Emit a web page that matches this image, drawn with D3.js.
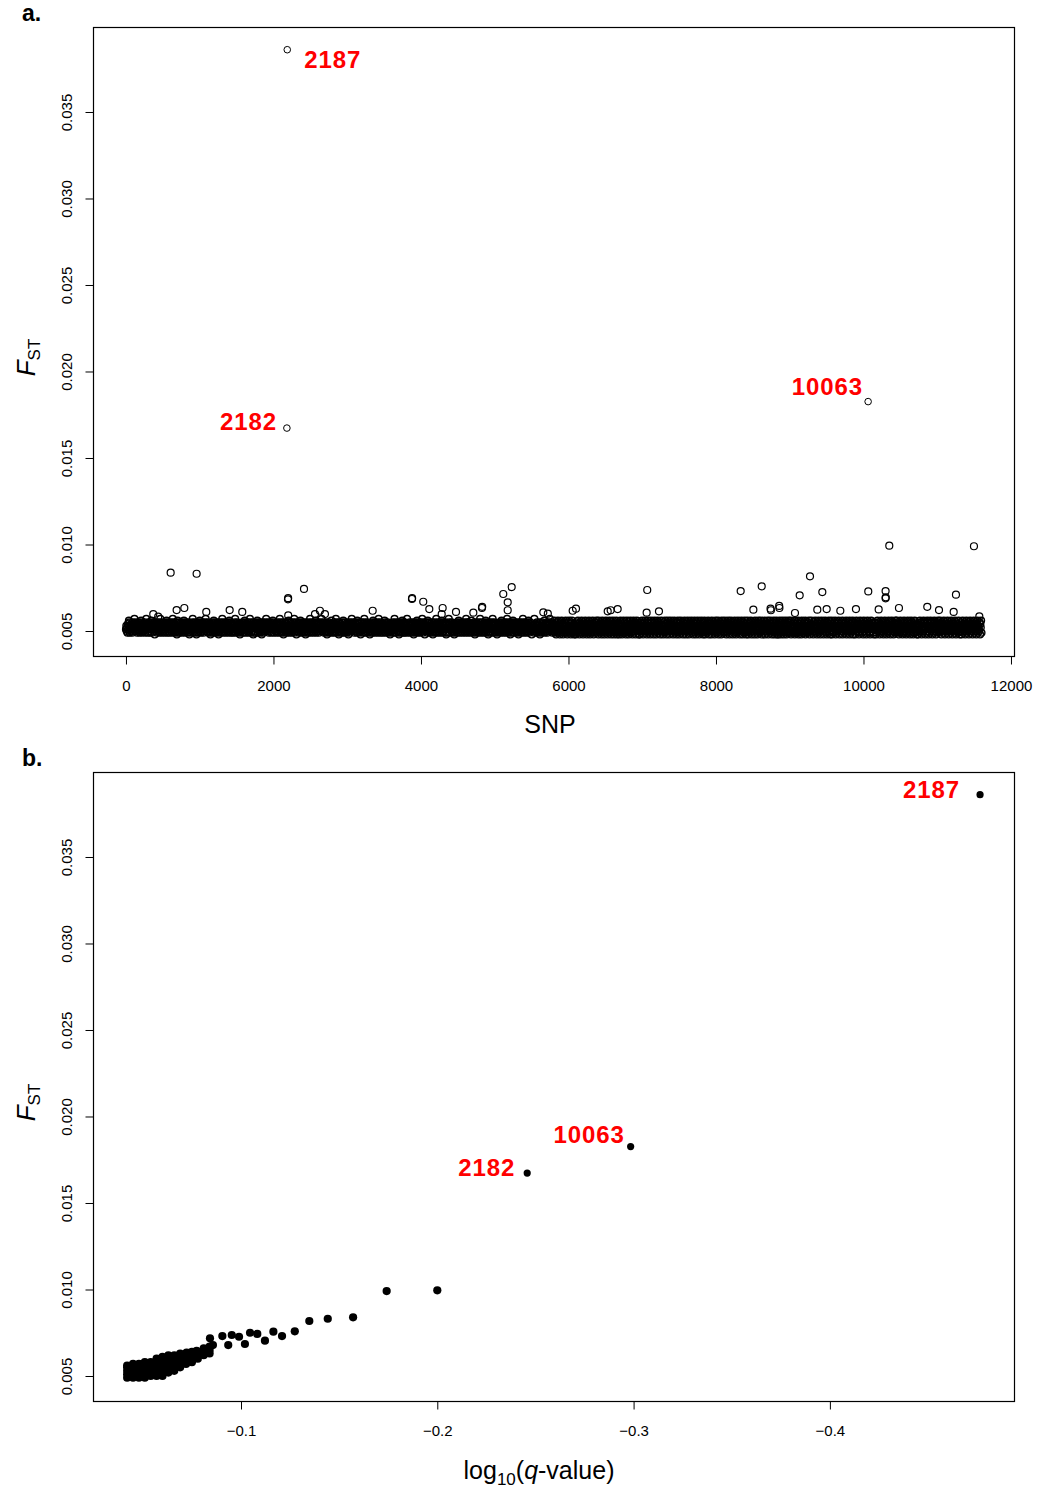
<!DOCTYPE html>
<html><head><meta charset="utf-8">
<script src="https://cdn.jsdelivr.net/npm/d3@7"></script>
<style>
body{margin:0;background:#fff}
text{font-family:"Liberation Sans",Arial,Helvetica,sans-serif}
</style>
</head><body>
<svg id="chart" width="1037" height="1490"></svg>
<script>
// ---------------- DATA ----------------
const snpTicks = [0, 2000, 4000, 6000, 8000, 10000, 12000];
const fstTicks = [0.005, 0.010, 0.015, 0.020, 0.025, 0.030, 0.035];
const logqTicks = [-0.1, -0.2, -0.3, -0.4];

// highlighted SNPs
const labelIds  = ["2187", "2182", "10063"];
const labelSnp  = [2187, 2182, 10063];
const labelFst  = [0.0386, 0.01673, 0.01826];
const labelLogQ = [-0.4765, -0.2458, -0.2985];

// number of SNPs
const snpCount = 11600;

// dense band of F_ST values along the SNPs (code d -> 0.0048 + d*0.0001)
const bandCodes = [
"3524163587142536417253694275361425734162587412635247136954",
"4163725143687153462705342617354261794526137452613745861374",
"2615374261597426153742018374216537421653782615372461537406",
"5142637915263741506374152687415263741526379452637145263014",
"3627158362715436271043627154396715432671543267158326715432",
"1546279154627315462031546273154687315426731542973154267015",
"4271563487156342715604271563427596342751634275163487516342",
"6315274631597463152740315274631257483125746312574691257403",
"2547163258716325471632507163254176395417632541763284176325",
"7134256793425671342567104256713452681345267134596713452071",
"3462517348251734625173402517346295734621573462187346215704",
"5273146597314652731465203146527184652713465271396527134652",
"1635487163542716354201635427163594716352471605247163584716",
"4716235491623547162354716205471632587163254716325971632507",
"2354718235471623547102354716295417623541762384176235417603",
"6143597614352761435206143527614385761432576143257614925761",
"3725461382546137250613725461372594137256413725681372560137",
"5216437591643752164305216437521684752163475216397521634702",
"1467385146732514673201467325146793514672351467285146723504",
"4352196435217643521704352176435281643527164352796435271643",
"2816350427183625041738265014372685130427381652074813526031",
"5031762845102736481350276418253067142835017624385106273548",
"1724083651427038165240731862540731682450173682405176382041",
"6350218473605128437160528431706258413670258143760528417360",
"0427315864023718564302781536402817356402871356042817365402",
"3861520473186250473816205478316250478361250473816205478136",
"2507438162057348160257438612507348162075348126075348126705",
"7183026451738206457130826457130286457138026457130826451738",
"4620517386240517836420571386420517386245017386240571386240",
"1358206473158204763152084763150284763158204736158204763158",
"6042738155602738150627381056027381506273815062738150627381",
"3715804261375180426137518042613750842613751804261375184026",
"5283614072528361407258316407258361402758361407253861407258",
"0641527383064152738306415273803641527380641527380641257380",
"2476103585247610358524761305852476103582547610358524761035",
"7350416822735041682273504168273504162827350416827350461682",
"1827365041182736504118273650411827365041827365041182736504",
"4063158277406315827740631582740631587274063158277406315827",
"6518240373651824037365182403736518240373651824073365182403",
"3270648155327064815532706481553270648155327064815532706481"
].join("");

// scattered SNPs above the band (SNP index, F_ST)
const outlierSnp = [606, 958, 2197, 2199, 2414, 3878, 3880, 4031, 4113, 4294, 4281, 4475, 4827, 4830,
  5116, 5230, 5176, 5176, 4710, 370, 437, 687, 791, 1089, 1406, 1577, 2200, 2563, 2630, 2698, 3345,
  5659, 5720, 10350, 11498, 9275, 8620, 7068, 8335, 9135, 9442, 10065, 10300, 10300, 10302, 11254,
  10865, 10481, 11024, 11223, 8507, 8740, 8745, 8857, 8860, 9374, 9501, 9686, 9898, 10206, 9071,
  7060, 7227, 6667, 6572, 6532, 6102, 6057, 11571];
const outlierFst = [0.00837, 0.00831, 0.00683, 0.00690, 0.00743, 0.00685, 0.00690, 0.00669, 0.00627, 0.00633, 0.00597, 0.0061, 0.00633, 0.0064,
  0.00714, 0.00754, 0.00666, 0.0062, 0.00606, 0.00597, 0.00583, 0.00621, 0.00633, 0.0061, 0.00621, 0.0061, 0.0059, 0.00598, 0.00617, 0.00598, 0.00617,
  0.00608, 0.0060, 0.00993, 0.0099, 0.00816, 0.00758, 0.00737, 0.00731, 0.00706, 0.00725, 0.00729, 0.00731, 0.00689, 0.00695, 0.0071,
  0.0064, 0.00633, 0.00621, 0.0061, 0.00623, 0.00629, 0.0062, 0.00645, 0.00633, 0.00623, 0.00627, 0.00617, 0.00627, 0.00625, 0.00604,
  0.00606, 0.00614, 0.00627, 0.0062, 0.00614, 0.00629, 0.00617, 0.00585];

// panel b: dense cluster, by log10(q) column with its F_ST values
const clusterCols = [
  [-0.042, [0.0049, 0.0051, 0.0053, 0.0055, 0.0056]],
  [-0.045, [0.0049, 0.0051, 0.0053, 0.0055, 0.0057]],
  [-0.048, [0.0049, 0.0051, 0.0053, 0.0055, 0.0057]],
  [-0.051, [0.0049, 0.0051, 0.0053, 0.0055, 0.0057, 0.0058]],
  [-0.054, [0.0050, 0.0052, 0.0054, 0.0056, 0.0058]],
  [-0.057, [0.0050, 0.0052, 0.0054, 0.0056, 0.0058, 0.0060]],
  [-0.060, [0.0050, 0.0052, 0.0054, 0.0056, 0.0058, 0.0061]],
  [-0.063, [0.0052, 0.0054, 0.0056, 0.0058, 0.0060, 0.0062]],
  [-0.066, [0.0053, 0.0055, 0.0057, 0.0059, 0.0062]],
  [-0.069, [0.0055, 0.0057, 0.0059, 0.0061, 0.0063]],
  [-0.072, [0.0057, 0.0059, 0.0061, 0.0063]],
  [-0.075, [0.0058, 0.0060, 0.0062, 0.0064]],
  [-0.078, [0.0060, 0.0062, 0.0064]],
  [-0.081, [0.0062, 0.0064, 0.0066]],
  [-0.084, [0.0063, 0.0065, 0.0067]]
];
// panel b: sparse points
const sparseLogQ = [-0.2000, -0.1742, -0.1571, -0.1442, -0.1348, -0.1274, -0.1209, -0.1165, -0.1122, -0.1083,
  -0.1046, -0.1020, -0.0990, -0.0953, -0.0935, -0.0905, -0.0857, -0.0842, -0.0774, -0.0723];
const sparseFst = [0.00995, 0.00991, 0.00839, 0.00831, 0.00818, 0.00758, 0.00731, 0.00756, 0.00704, 0.00743,
  0.0075, 0.00685, 0.00727, 0.00737, 0.00679, 0.00731, 0.00679, 0.00718, 0.00646, 0.00635];

// ---------------- DRAW ----------------
const svg = d3.select("#chart");
const L = 93, R = 1014;
const panels = [{top: 27, bottom: 656, tag: "a."}, {top: 772, bottom: 1401, tag: "b."}];

function yScale(p) {
  return d3.scaleLinear().domain([0.003555, 0.039913]).range([p.bottom, p.top]);
}

function frame(p, y) {
  svg.append("rect").attr("x", L + 0.5).attr("y", p.top + 0.5)
    .attr("width", R - L).attr("height", p.bottom - p.top)
    .attr("fill", "none").attr("stroke", "#000").attr("stroke-width", 1.2);
  const ga = svg.append("g").attr("transform", `translate(${L + 0.5},0)`)
    .call(d3.axisLeft(y).tickValues(fstTicks).tickSize(8).tickFormat(d3.format(".3f")));
  ga.select(".domain").remove();
  ga.selectAll("line").attr("stroke-width", 1);
  ga.selectAll("text").attr("x", 0).attr("dy", 0)
    .attr("transform", "translate(-22,0) rotate(-90)")
    .attr("text-anchor", "middle").attr("font-size", 15).attr("fill", "#000")
    .style("font-family", '"Liberation Sans",Arial,sans-serif');
  svg.append("text").attr("x", 22).attr("y", p.top - 6)
    .attr("font-size", 23).attr("font-weight", "bold").text(p.tag);
  const mid = (p.top + p.bottom) / 2 + 16;
  const t = svg.append("text").attr("transform", `translate(35,${mid}) rotate(-90)`)
    .attr("text-anchor", "middle").attr("font-size", 26);
  t.append("tspan").attr("font-style", "italic").text("F");
  t.append("tspan").attr("font-size", 17).attr("dy", 5).text("ST");
}

function redLabel(x, y, txt, anchor) {
  svg.append("text").attr("x", x).attr("y", y).attr("text-anchor", anchor)
    .attr("fill", "#ff0000").attr("font-weight", "bold").attr("font-size", 24)
    .attr("letter-spacing", 0.9).text(txt);
}

// ---- panel a ----
{
  const p = panels[0];
  const y = yScale(p);
  const x = d3.scaleLinear().domain([-447, 12041]).range([L, R]);
  frame(p, y);
  const gx = svg.append("g").attr("transform", `translate(0,${p.bottom + 0.5})`)
    .call(d3.axisBottom(x).tickValues(snpTicks).tickSize(8).tickFormat(d3.format("d")));
  gx.select(".domain").remove();
  gx.selectAll("text").attr("y", 34).attr("dy", 0).attr("font-size", 15).attr("fill", "#000")
    .style("font-family", '"Liberation Sans",Arial,sans-serif');
  svg.append("text").attr("x", 550).attr("y", 733).attr("text-anchor", "middle")
    .attr("font-size", 25).text("SNP");

  const band = bandCodes.split("").map((c, i) => ({
    snp: i * snpCount / (bandCodes.length - 1), fst: 0.0048 + (+c) * 0.0001
  }));
  const outs = outlierSnp.map((s, i) => ({snp: s, fst: outlierFst[i]}));
  const labs = labelSnp.map((s, i) => ({snp: s, fst: labelFst[i]}));
  svg.append("g").selectAll("circle").data(band).join("circle")
    .attr("cx", d => x(d.snp)).attr("cy", d => y(d.fst)).attr("r", 3.4)
    .attr("fill", "none").attr("stroke", "#000").attr("stroke-width", 1.4);
  svg.append("g").selectAll("circle").data(outs).join("circle")
    .attr("cx", d => x(d.snp)).attr("cy", d => y(d.fst)).attr("r", 3.5)
    .attr("fill", "none").attr("stroke", "#000").attr("stroke-width", 1.2);
  svg.append("g").selectAll("circle").data(labs).join("circle")
    .attr("cx", d => x(d.snp)).attr("cy", d => y(d.fst)).attr("r", 3.3)
    .attr("fill", "none").attr("stroke", "#000").attr("stroke-width", 1);
  redLabel(x(labelSnp[0]) + 17, y(labelFst[0]) + 18, labelIds[0], "start");
  redLabel(x(labelSnp[1]) - 10, y(labelFst[1]) + 2, labelIds[1], "end");
  redLabel(x(labelSnp[2]) - 5, y(labelFst[2]) - 7, labelIds[2], "end");
}

// ---- panel b ----
{
  const p = panels[1];
  const y = yScale(p);
  const x = d3.scaleLinear().domain([-0.0246, -0.4938]).range([L, R]);
  frame(p, y);
  const gx = svg.append("g").attr("transform", `translate(0,${p.bottom + 0.5})`)
    .call(d3.axisBottom(x).tickValues(logqTicks).tickSize(8).tickFormat(d3.format(".1f")));
  gx.select(".domain").remove();
  gx.selectAll("text").attr("y", 34).attr("dy", 0).attr("font-size", 15).attr("fill", "#000")
    .style("font-family", '"Liberation Sans",Arial,sans-serif');
  const t = svg.append("text").attr("x", 539).attr("y", 1479).attr("text-anchor", "middle").attr("font-size", 25);
  t.append("tspan").text("log");
  t.append("tspan").attr("font-size", 17).attr("dy", 6).text("10");
  t.append("tspan").attr("dy", -6).text("(");
  t.append("tspan").attr("font-style", "italic").text("q");
  t.append("tspan").text("-value)");

  const pts = [];
  clusterCols.forEach(([q, fs]) => fs.forEach(f => pts.push({q: q, fst: f})));
  sparseLogQ.forEach((q, i) => pts.push({q: q, fst: sparseFst[i]}));
  svg.append("g").selectAll("circle").data(pts).join("circle")
    .attr("cx", d => x(d.q)).attr("cy", d => y(d.fst)).attr("r", 4.1).attr("fill", "#000");
  const labs = labelLogQ.map((q, i) => ({q: q, fst: labelFst[i]}));
  svg.append("g").selectAll("circle").data(labs).join("circle")
    .attr("cx", d => x(d.q)).attr("cy", d => y(d.fst)).attr("r", 3.6).attr("fill", "#000");
  redLabel(x(labelLogQ[0]) - 20, y(labelFst[0]) + 3, labelIds[0], "end");
  redLabel(x(labelLogQ[1]) - 12, y(labelFst[1]) + 3, labelIds[1], "end");
  redLabel(x(labelLogQ[2]) - 6, y(labelFst[2]) - 4, labelIds[2], "end");
}
</script>
</body></html>
